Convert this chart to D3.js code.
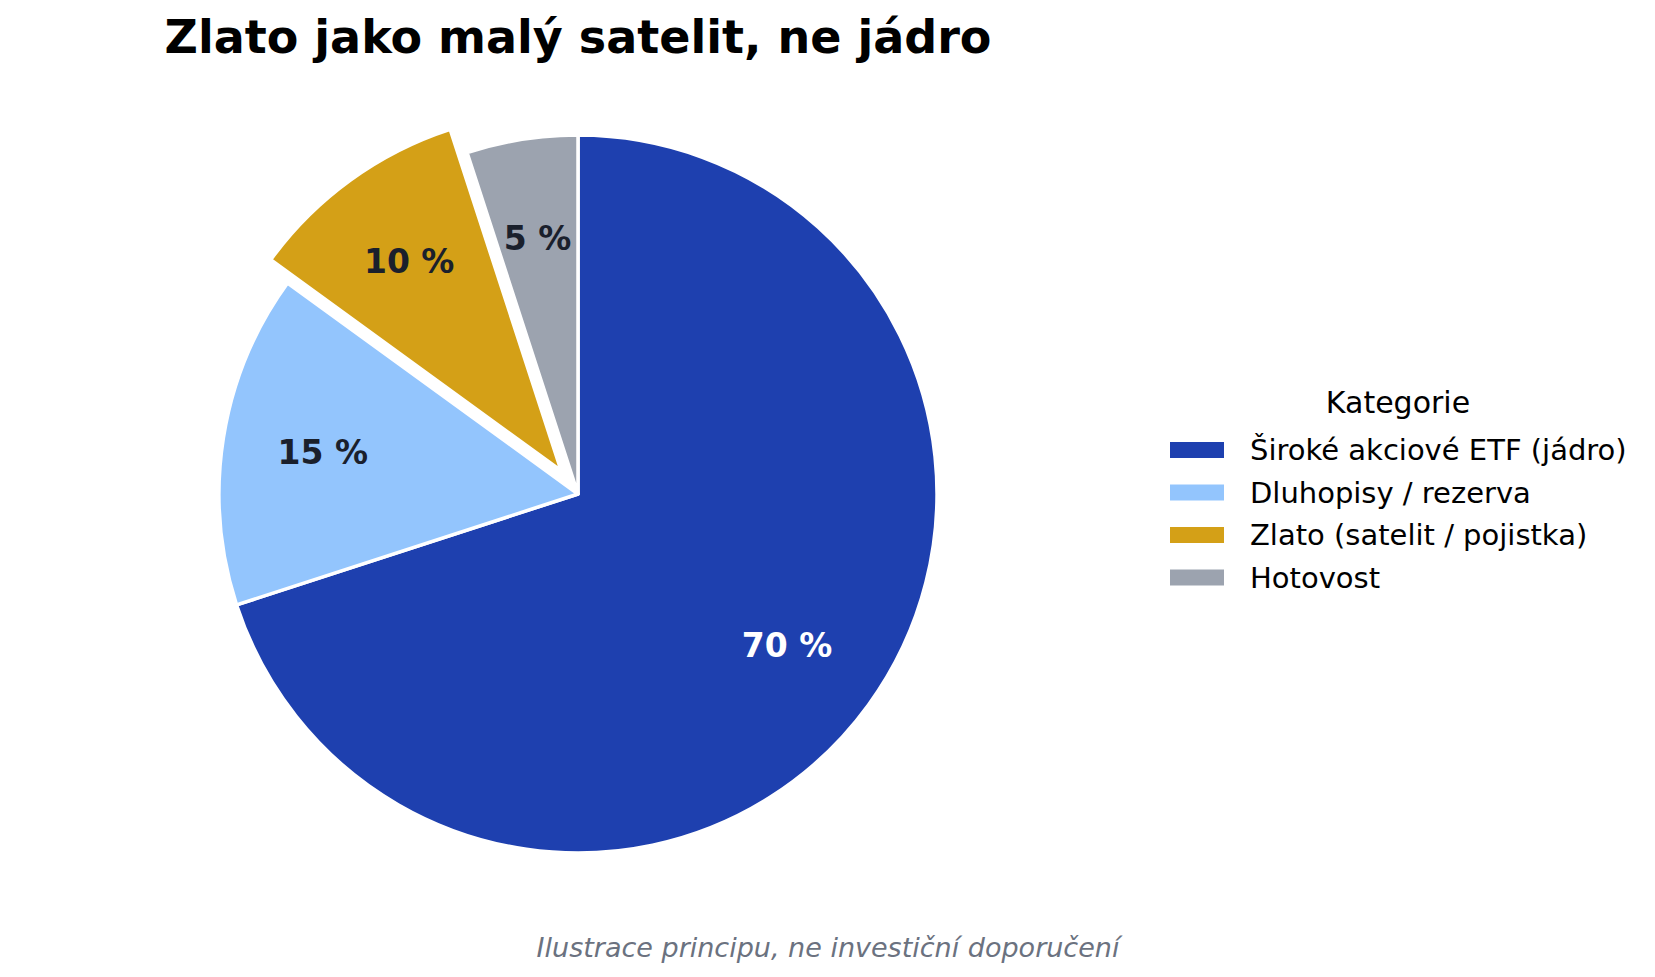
<!DOCTYPE html>
<html lang="cs">
<head>
  <meta charset="utf-8">
  <title>Zlato jako malý satelit</title>
  <script src="https://cdn.jsdelivr.net/npm/d3@7"></script>
  <style>
    body { margin: 0; background: #fff; }
    svg { display: block; font-family: 'DejaVu Sans', sans-serif; }
  </style>
</head>
<body>
<svg id="chart" width="1655" height="977"></svg>
<script>
// data
var categories = ['Široké akciové ETF (jádro)', 'Dluhopisy / rezerva', 'Zlato (satelit / pojistka)', 'Hotovost'];
var shares = [70, 15, 10, 5];
var explode = [0, 0, 0.08, 0];
var colors = ['#1e40af', '#93c5fd', '#d4a017', '#9ca3af'];
var labelColors = ['#ffffff', '#1a202c', '#1a202c', '#1a202c'];

var svg = d3.select('#chart');
var cx = 578, cy = 494, radius = 359;

svg.append('text')
  .attr('x', cx).attr('y', 53)
  .attr('text-anchor', 'middle')
  .style('font-size', '46px').style('font-weight', 'bold').style('fill', '#000')
  .text('Zlato jako malý satelit, ne jádro');

var pie = d3.pie().sort(null).value(function(d){ return d; });
var arcs = pie(shares);
var arc = d3.arc().innerRadius(0).outerRadius(radius);

var g = svg.append('g').attr('transform', 'translate(' + cx + ',' + cy + ')');

var slices = g.selectAll('.slice').data(arcs).enter()
  .append('g').attr('class', 'slice')
  .attr('transform', function(d, i){
    var mid = (d.startAngle + d.endAngle) / 2, off = explode[i] * radius;
    return 'translate(' + (Math.sin(mid) * off) + ',' + (-Math.cos(mid) * off) + ')';
  });

slices.append('path')
  .attr('d', arc)
  .attr('fill', function(d, i){ return colors[i]; })
  .attr('stroke', '#fff').attr('stroke-width', 3.5).attr('stroke-linejoin', 'round');

slices.append('text')
  .attr('x', function(d){ return Math.sin((d.startAngle + d.endAngle) / 2) * radius * 0.72; })
  .attr('y', function(d){ return -Math.cos((d.startAngle + d.endAngle) / 2) * radius * 0.72; })
  .attr('dy', '0.33em')
  .attr('text-anchor', 'middle')
  .style('font-size', '33px').style('font-weight', 'bold')
  .style('fill', function(d, i){ return labelColors[i]; })
  .text(function(d){ return d.data + ' %'; });

// legend
var legend = svg.append('g').attr('transform', 'translate(1170,0)');
legend.append('text')
  .attr('x', 228).attr('y', 413)
  .attr('text-anchor', 'middle')
  .style('font-size', '30px').style('fill', '#000')
  .text('Kategorie');

var rows = legend.selectAll('.row').data(categories).enter()
  .append('g').attr('class', 'row')
  .attr('transform', function(d, i){ return 'translate(0,' + (442 + i * 42.5) + ')'; });
rows.append('rect')
  .attr('width', 54).attr('height', 16)
  .attr('fill', function(d, i){ return colors[i]; });
rows.append('text')
  .attr('x', 80).attr('y', 18)
  .style('font-size', '29px').style('fill', '#000')
  .text(function(d){ return d; });

svg.append('text')
  .attr('x', 828).attr('y', 957)
  .attr('text-anchor', 'middle')
  .style('font-size', '27px').style('font-style', 'italic').style('fill', '#6b7280')
  .text('Ilustrace principu, ne investiční doporučení');
</script>
</body>
</html>
